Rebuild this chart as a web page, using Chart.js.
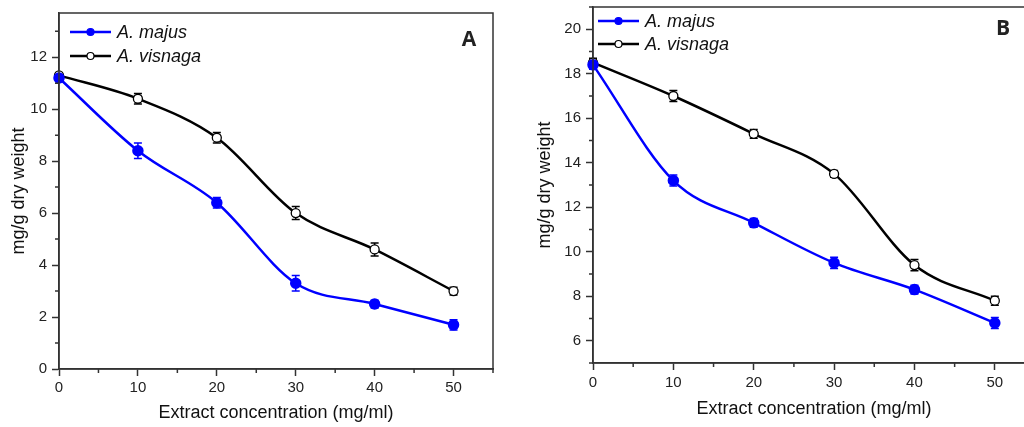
<!DOCTYPE html>
<html>
<head>
<meta charset="utf-8">
<script src="https://cdn.jsdelivr.net/npm/chart.js@4.4.0/dist/chart.umd.min.js"></script>
<style>
    html, body { margin: 0; padding: 0; background: #fff; overflow: hidden; }
    #wrap { position: relative; width: 1024px; height: 427px; overflow: hidden; }
    #chartA { position: absolute; left: 0; top: 0; }
    #chartB { position: absolute; left: 512px; top: 0; }
</style>
</head>
<body>
<div id="wrap">
    <canvas id="chartA" width="512" height="427"></canvas>
    <canvas id="chartB" width="540" height="427"></canvas>
</div>
<script>
// concentrations (mg/ml)
var concentrations = [0, 10, 20, 30, 40, 50];
var seriesNames = ["A. majus", "A. visnaga"];
var xTicks = [0, 10, 20, 30, 40, 50];

// panel A values (mg/g dry weight)
var majusA = [11.2, 8.4, 6.4, 3.3, 2.5, 1.7];
var majusErrA = [0.15, 0.3, 0.2, 0.3, 0.15, 0.2];
var visnagaA = [11.3, 10.4, 8.9, 6.0, 4.6, 3.0];
var visnagaErrA = [0.1, 0.2, 0.2, 0.25, 0.25, 0.15];
var yTicksA = [0, 2, 4, 6, 8, 10, 12];

// panel B values (mg/g dry weight)
var majusB = [18.4, 13.2, 11.3, 9.5, 8.3, 6.8];
var majusErrB = [0.2, 0.25, 0.2, 0.25, 0.2, 0.25];
var visnagaB = [18.5, 17.0, 15.3, 13.5, 9.4, 7.8];
var visnagaErrB = [0.2, 0.25, 0.2, 0.15, 0.25, 0.2];
var yTicksB = [6, 8, 10, 12, 14, 16, 18, 20];

var BLUE = "#0000ff";
var AXIS = "#333333";
var FONT = "'Liberation Sans', Arial, sans-serif";

function toPoints(ys) {
    var pts = [];
    for (var i = 0; i < concentrations.length; i++) {
        pts.push({x: concentrations[i], y: ys[i]});
    }
    return pts;
}

function tickObjects(values) {
    return values.map(function (v) {
        return {value: v};
    });
}

// error bars, minor ticks, frame, legend and panel letter
var extrasPlugin = {
    id: "extras",
    beforeDatasetsDraw: function (chart) {
        var ctx = chart.ctx;
        var xs = chart.scales.x, ys = chart.scales.y;
        chart.data.datasets.forEach(function (ds) {
            ctx.save();
            ctx.strokeStyle = ds.borderColor;
            ctx.lineWidth = 1.5;
            ds.data.forEach(function (p, i) {
                var e = ds.errors[i];
                var px = xs.getPixelForValue(p.x);
                var y1 = ys.getPixelForValue(p.y + e);
                var y2 = ys.getPixelForValue(p.y - e);
                ctx.beginPath();
                ctx.moveTo(px, y1); ctx.lineTo(px, y2);
                ctx.moveTo(px - 4, y1); ctx.lineTo(px + 4, y1);
                ctx.moveTo(px - 4, y2); ctx.lineTo(px + 4, y2);
                ctx.stroke();
            });
            ctx.restore();
        });
    },
    afterDraw: function (chart) {
        var ctx = chart.ctx;
        var area = chart.chartArea;
        var o = chart.options.plugins.extras;
        var xs = chart.scales.x, ys = chart.scales.y;
        ctx.save();
        // frame
        ctx.strokeStyle = AXIS;
        ctx.lineWidth = 1.5;
        ctx.strokeRect(area.left, area.top, area.right - area.left, area.bottom - area.top);
        // minor ticks
        ctx.beginPath();
        for (var v = 5; v <= xs.max; v += 10) {
            var px = xs.getPixelForValue(v);
            ctx.moveTo(px, area.bottom); ctx.lineTo(px, area.bottom + 4);
        }
        for (var w = Math.ceil(ys.min); w <= ys.max; w++) {
            if (w % 2 === 0) continue;
            var py = ys.getPixelForValue(w);
            ctx.moveTo(area.left, py); ctx.lineTo(area.left - 4, py);
        }
        ctx.stroke();
        // legend
        ctx.font = "italic 18px " + FONT;
        ctx.textBaseline = "middle";
        ctx.textAlign = "left";
        chart.data.datasets.forEach(function (ds, i) {
            var ly = o.legendY + i * o.legendGap;
            ctx.strokeStyle = ds.borderColor;
            ctx.lineWidth = 2.5;
            ctx.beginPath();
            ctx.moveTo(o.legendX, ly); ctx.lineTo(o.legendX + 41, ly);
            ctx.stroke();
            ctx.beginPath();
            ctx.arc(o.legendX + 20.5, ly, 3.5, 0, Math.PI * 2);
            ctx.fillStyle = ds.pointBackgroundColor;
            ctx.fill();
            ctx.lineWidth = 1.2;
            ctx.strokeStyle = ds.pointBorderColor;
            ctx.stroke();
            ctx.fillStyle = "#111";
            ctx.fillText(ds.label, o.legendX + 47, ly + 1);
        });
        // panel letter
        ctx.font = "bold 21px 'Open Sans', sans-serif";
        ctx.textAlign = "center";
        ctx.fillStyle = "#222";
        ctx.fillText(o.letter, o.letterX, o.letterY);
        ctx.restore();
    }
};

function makeChart(id, majus, majusErr, visnaga, visnagaErr, yTicks, lay) {
    new Chart(id, {
        type: "line",
        data: {
            datasets: [{
                    label: seriesNames[0],
                    data: toPoints(majus),
                    errors: majusErr,
                    borderColor: BLUE,
                    borderWidth: 2.5,
                    pointRadius: 4.5,
                    pointBackgroundColor: BLUE,
                    pointBorderColor: BLUE,
                    cubicInterpolationMode: "monotone",
                    clip: false
                }, {
                    label: seriesNames[1],
                    data: toPoints(visnaga),
                    errors: visnagaErr,
                    borderColor: "#000000",
                    borderWidth: 2.5,
                    pointRadius: 4.5,
                    pointBorderWidth: 1.3,
                    pointBackgroundColor: "#ffffff",
                    pointBorderColor: "#000000",
                    cubicInterpolationMode: "monotone",
                    clip: false
                }]
        },
        options: {
            responsive: false,
            animation: false,
            events: [],
            layout: {padding: {left: 0, top: lay.top, right: lay.right, bottom: 0}},
            plugins: {
                legend: {display: false},
                tooltip: {enabled: false},
                extras: lay
            },
            scales: {
                x: {
                    type: "linear",
                    min: 0,
                    max: 55,
                    afterBuildTicks: function (scale) {
                        scale.ticks = tickObjects(xTicks);
                    },
                    afterFit: function (scale) {
                        scale.height = lay.xHeight;
                        scale.paddingLeft = 0; scale.paddingRight = 0;
                    },
                    ticks: {padding: lay.xTickPad, color: "#222", font: {family: FONT, size: 15}},
                    grid: {drawOnChartArea: false, tickLength: 7, tickColor: AXIS, tickWidth: 1.5},
                    border: {color: AXIS, width: 1.5},
                    title: {display: true, text: "Extract concentration (mg/ml)", color: "#111",
                        font: {family: FONT, size: 18}, padding: {top: 0, bottom: lay.xTitlePad}}
                },
                y: {
                    min: lay.yMin,
                    max: lay.yMax,
                    afterBuildTicks: function (scale) {
                        scale.ticks = tickObjects(yTicks);
                    },
                    afterFit: function (scale) {
                        scale.width = lay.yWidth;
                        scale.paddingTop = 0; scale.paddingBottom = 0;
                    },
                    ticks: {padding: 5, color: "#222", font: {family: FONT, size: 15}},
                    grid: {drawOnChartArea: false, tickLength: 7, tickColor: AXIS, tickWidth: 1.5},
                    border: {color: AXIS, width: 1.5},
                    title: {display: true, text: "mg/g dry weight", color: "#111",
                        font: {family: FONT, size: 18}, padding: {top: lay.yTitlePad, bottom: 0}}
                }
            }
        },
        plugins: [extrasPlugin]
    });
}

makeChart("chartA", majusA, majusErrA, visnagaA, visnagaErrA, yTicksA, {
    top: 13, right: 19, xHeight: 58, yWidth: 59, yMin: 0, yMax: 13.7,
    xTickPad: 3, xTitlePad: 3, yTitlePad: 8,
    legendX: 70, legendY: 32, legendGap: 24,
    letter: "A", letterX: 469, letterY: 40
});

makeChart("chartB", majusB, majusErrB, visnagaB, visnagaErrB, yTicksB, {
    top: 7, right: 17, xHeight: 64, yWidth: 81, yMin: 5, yMax: 21,
    xTickPad: 4, xTitlePad: 7, yTitlePad: 22,
    legendX: 86, legendY: 21, legendGap: 23,
    letter: "B", letterX: 491, letterY: 29
});
</script>
</body>
</html>
